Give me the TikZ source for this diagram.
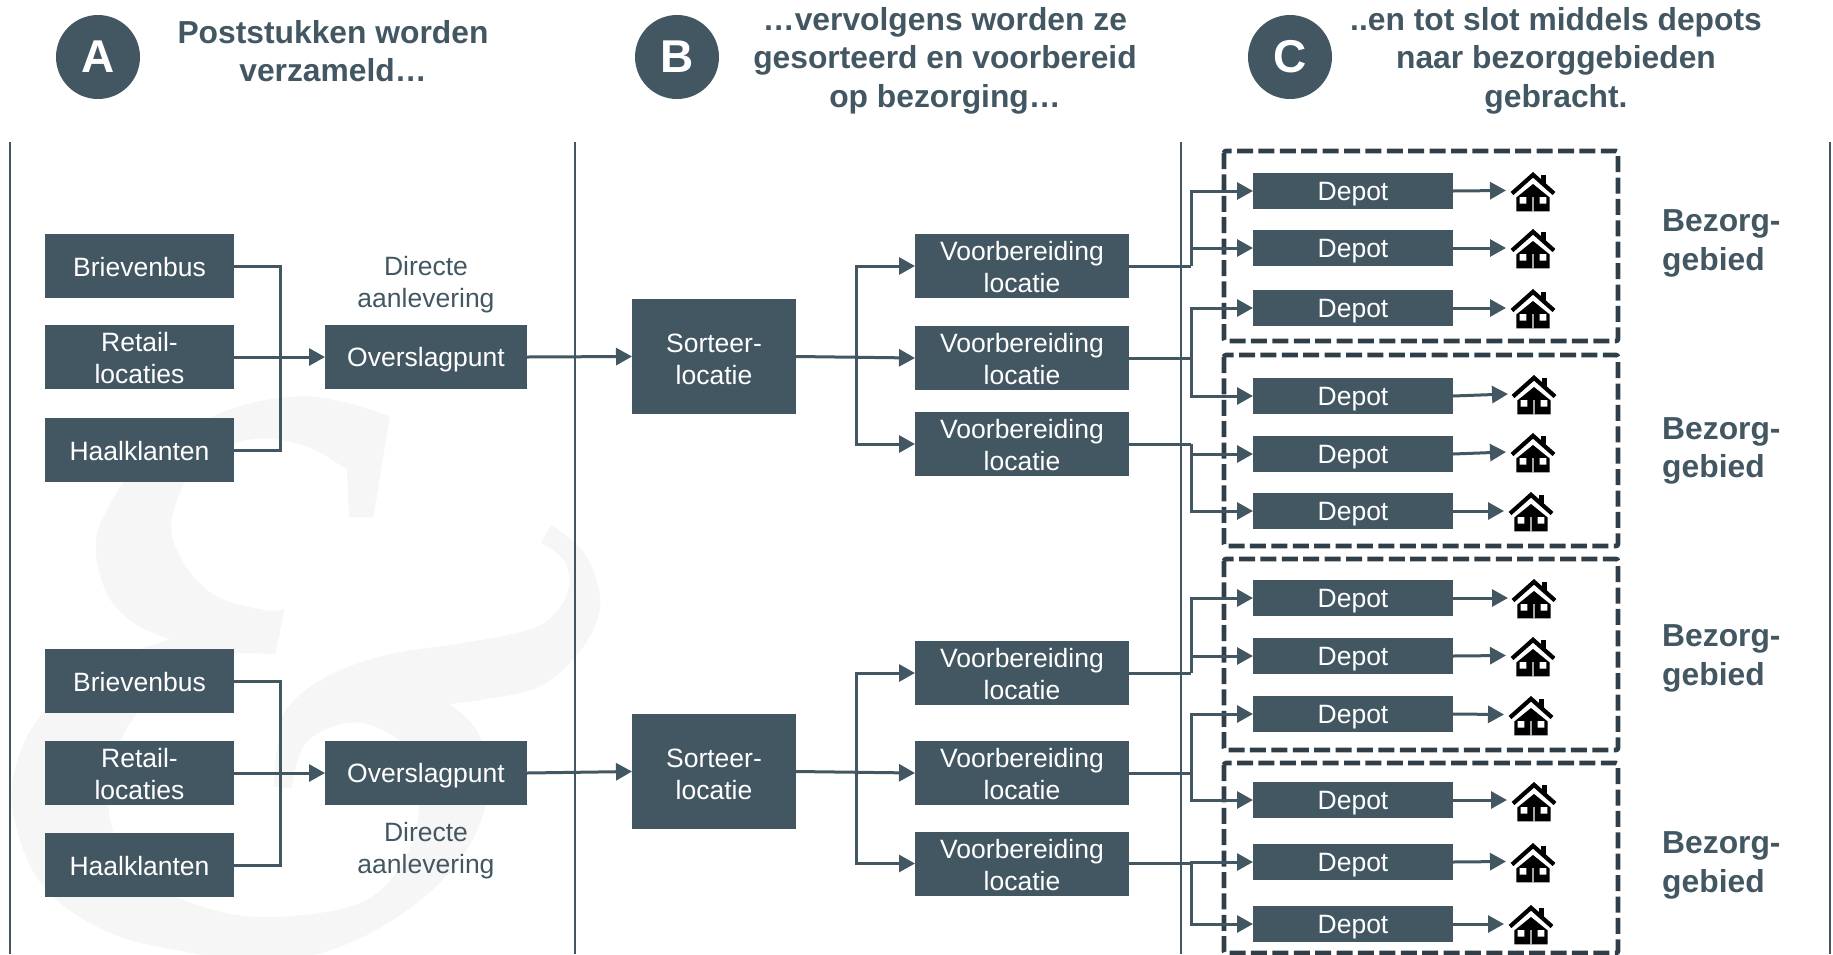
\documentclass[tikz,border=0pt]{standalone}
\usepackage{fontspec}
\setmainfont{Liberation Sans}
\usetikzlibrary{arrows.meta}
\definecolor{slate}{RGB}{67,87,99}
\definecolor{darkslate}{RGB}{47,62,72}
\definecolor{wmark}{RGB}{246,246,246}
\newcommand{\lowerA}{\rule{0pt}{21.8pt}}
\newcommand{\lowerB}{\rule{0pt}{24pt}}
\tikzset{
  boxnode/.style={fill=slate,text=white,inner sep=0pt,outer sep=0pt,anchor=north west,align=center,font=\fontsize{26.5}{32}\selectfont},
  oneline/.style={text height=#1,text depth=0pt,align=none},
  leftbox/.style={boxnode,minimum width=189pt,minimum height=64pt},
  overbox/.style={boxnode,minimum width=202pt,minimum height=64pt},
  sortbox/.style={boxnode,minimum width=164pt,minimum height=115pt},
  prepbox/.style={boxnode,minimum width=214pt,minimum height=64pt},
  depotbox/.style={boxnode,minimum width=200pt,minimum height=36pt,oneline=19.4pt},
  conn/.style={draw=slate,line width=3pt,line join=miter},
  arr/.style={conn,-{Triangle[length=16pt,width=17pt,fill=slate]}},
  divider/.style={draw=slate,line width=2pt},
  region/.style={draw=darkslate,line width=4.6pt,dash pattern=on 16pt off 5.4pt,rounded corners=2pt},
  heading/.style={align=center,text=slate,inner sep=0pt,font=\bfseries\fontsize{31.8}{38.5}\selectfont},
  plainlabel/.style={align=center,text=slate,inner sep=0pt,font=\fontsize{26.5}{32}\selectfont},
  badge/.style={circle,fill=slate,text=white,inner sep=0pt,minimum size=84pt,font=\bfseries\fontsize{46}{46}\selectfont},
  house/.pic={
    \draw[black,line width=4.2pt,miter limit=10] (-21,21.5) -- (0,2.8) -- (21,21.5);
    \fill[black] (8.3,3.3) rectangle (13.3,13);
    \fill[black] (-16.7,25.5) -- (0,12) -- (16.7,25.5) -- (16.7,39.3) -- (-16.7,39.3) -- cycle;
    \fill[white] (-13.3,25) rectangle (-6.7,31.7) (6.7,25) rectangle (13.3,31.7) (-0.7,25) rectangle (0.7,39.3);
  }
}
\begin{document}
\begin{tikzpicture}[x=1pt,y=-1pt]
\useasboundingbox (0,0) rectangle (1833,954);
% watermark
\begin{scope}
\clip (0,0) rectangle (1833,954);
\begin{scope}[shift={(0,380)},x=0.4082pt,y=-0.3663pt]
\fill[wmark]
  plot[smooth,tension=.6] coordinates {(955,100) (850,62) (720,45) (540,90) (350,220) (255,370) (235,470) (265,590) (330,665) (415,708)}
  -- plot[smooth,tension=.6] coordinates {(415,708) (230,790) (90,930) (30,1100) (50,1260) (120,1400) (270,1510) (450,1560) (650,1590) (850,1540) (1030,1420) (1150,1270) (1200,1100) (1170,960) (1100,885)}
  -- plot[smooth,tension=.6] coordinates {(1100,885) (1290,850) (1380,790) (1450,690) (1470,590) (1430,470) (1350,395)}
  -- (1325,445)
  -- plot[smooth,tension=.6] coordinates {(1325,445) (1380,490) (1395,560) (1365,630) (1300,680) (1150,715) (950,750) (800,810) (700,900) (680,1000) (670,1110)}
  -- (715,1115)
  -- plot[smooth,tension=.6] coordinates {(715,1115) (750,990) (860,935) (960,970) (1020,1050) (1020,1220) (960,1360) (850,1440) (620,1465) (430,1410) (310,1310) (265,1160) (290,1000) (380,860) (580,745)}
  -- (675,748) -- (697,625)
  -- plot[smooth,tension=.6] coordinates {(697,625) (650,628) (530,590) (450,500) (420,390) (470,250) (560,180) (650,160) (760,185) (850,245)}
  -- (855,375) -- (915,375) -- cycle;
\end{scope}
\end{scope}
% dividers
\coordinate (t1) at (10,142);  \coordinate (e1) at (10,954);
\coordinate (t2) at (575,142); \coordinate (e2) at (575,954);
\coordinate (t3) at (1180.5,142); \coordinate (e3) at (1180.5,954);
\coordinate (t4) at (1830,142); \coordinate (e4) at (1830,954);
\foreach \i in {1,2,3,4} \draw[divider] (t\i) -- (e\i);
% regions
\draw[region] (1224,151) rectangle (1618,341);
\draw[region] (1224,355) rectangle (1618,546);
\draw[region] (1224,559) rectangle (1618,750);
\draw[region] (1224,763) rectangle (1618,953);
% headers
\node[badge] (ca) at (98,57) {A};
\node[badge] (cb) at (677,57) {B};
\node[badge] (cc) at (1290,57) {C};
\node[heading] (ha) at (333,51) {Poststukken worden\\verzameld…};
\node[heading] (hb) at (945,60.5) {…vervolgens worden ze\\gesorteerd en voorbereid\\op bezorging…};
\node[heading] (hc) at (1556,60.5) {..en tot slot middels depots\\naar bezorggebieden\\gebracht.};
% left column, top
\node[leftbox,oneline=20.6pt] (b1) at (45,234) {Brievenbus};
\node[leftbox] (r1) at (45,325) {\lowerA Retail-\\locaties};
\node[leftbox,oneline=20.6pt] (k1) at (45,418) {Haalklanten};
\node[overbox,oneline=19.4pt] (o1) at (325,325) {Overslagpunt};
\node[plainlabel] (l1) at (426,285) {Directe\\aanlevering};
\node[sortbox] (s1) at (632,299) {\lowerB Sorteer-\\locatie};
\node[prepbox] (v1) at (915,234) {\lowerA Voorbereiding\\locatie};
\node[prepbox] (v2) at (915,326) {\lowerA Voorbereiding\\locatie};
\node[prepbox] (v3) at (915,412) {\lowerA Voorbereiding\\locatie};
% left column, bottom
\node[leftbox,oneline=20.6pt] (b2) at (45,649) {Brievenbus};
\node[leftbox] (r2) at (45,741) {\lowerA Retail-\\locaties};
\node[leftbox,oneline=20.6pt] (k2) at (45,833) {Haalklanten};
\node[overbox,oneline=19.4pt] (o2) at (325,741) {Overslagpunt};
\node[plainlabel] (l2) at (426,851) {Directe\\aanlevering};
\node[sortbox] (s2) at (632,714) {\lowerB Sorteer-\\locatie};
\node[prepbox] (v4) at (915,641) {\lowerA Voorbereiding\\locatie};
\node[prepbox] (v5) at (915,741) {\lowerA Voorbereiding\\locatie};
\node[prepbox] (v6) at (915,831.5) {\lowerA Voorbereiding\\locatie};
% depots and houses: name / y centre of box / arrow end x / arrow end y / house apex x / apex y
\foreach \n/\yc/\ax/\ay/\hx/\hy in {
  1/191/1506/190.5/1533/172,
  2/248/1506/248/1533/229,
  3/308/1506/308/1533/289,
  4/396/1508/394/1534/375,
  5/454/1506/452/1533/433,
  6/511/1504/511/1531/492,
  7/598/1508/598/1534/579,
  8/656/1506/655.5/1533/637,
  9/714/1504/714.5/1531/696,
  10/800/1507/800/1534/782,
  11/862/1506/861.5/1533/843,
  12/924/1504/924/1531/905}
{
  \node[depotbox] (d\n) at (1253,\yc-18) {Depot};
  \coordinate (a\n) at (\ax,\ay);
  \pic at (\hx,\hy) {house};
  \draw[arr] (d\n.east) -- (a\n);
}
% bezorg labels
\node[heading,align=left,anchor=west] (g1) at (1662,243.5) {Bezorg-\\gebied};
\node[heading,align=left,anchor=west] (g2) at (1662,451) {Bezorg-\\gebied};
\node[heading,align=left,anchor=west] (g3) at (1662,658.5) {Bezorg-\\gebied};
\node[heading,align=left,anchor=west] (g4) at (1662,865.5) {Bezorg-\\gebied};
% connectors left
\coordinate (j1) at (280,357);
\coordinate (j2) at (280,773);
\draw[conn] (b1.east) -| (j1);
\draw[conn] (k1.east) -| (j1);
\draw[arr] (r1.east) -- (o1.west);
\draw[conn] (b2.east) -| (j2);
\draw[conn] (k2.east) -| (j2);
\draw[arr] (r2.east) -- (o2.west);
\draw[arr] (o1.east) -- (s1.west);
\draw[arr] (o2.east) -- (s2.west);
% sorteer to voorbereiding
\coordinate (m1) at (856,357);
\coordinate (m2) at (856,772);
\draw[arr] (m1) |- (v1.west);
\draw[arr] (s1.east) -- (v2.west);
\draw[arr] (m1) |- (v3.west);
\draw[arr] (m2) |- (v4.west);
\draw[arr] (s2.east) -- (v5.west);
\draw[arr] (m2) |- (v6.west);
% voorbereiding to depots
\foreach \v/\p/\q in {1/1/2, 2/3/4, 3/5/6, 4/7/8, 5/9/10, 6/11/12}{
  \path (v\v.east) -- ++(62,0) coordinate (f\v);
  \draw[conn] (v\v.east) -- (f\v);
  \draw[arr] (f\v) |- (d\p.west);
  \draw[arr] (f\v) |- (d\q.west);
}
\end{tikzpicture}
\end{document}
